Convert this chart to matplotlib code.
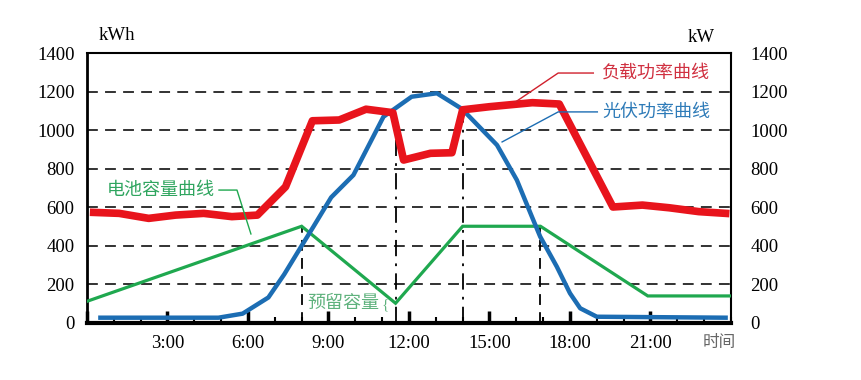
import matplotlib
matplotlib.use("Agg")
import matplotlib.pyplot as plt
from matplotlib.ticker import MultipleLocator

plt.rcParams['font.family'] = ['Liberation Serif', 'Noto Sans CJK SC', 'DejaVu Sans']

# data (hours, kW / kWh)
load_h = [0.25, 1.2, 2.3, 3.3, 4.35, 5.4, 6.35, 7.4, 8.4, 9.4, 10.4, 11.4, 11.8, 12.8,
          13.6, 14.0, 15.0, 16.6, 17.6, 19.6, 20.7, 21.7, 22.8, 23.8]
load_v = [572, 567, 541, 558, 567, 550, 558, 705, 1048, 1052, 1108, 1090, 844, 879,
          882, 1105, 1121, 1142, 1135, 600, 610, 596, 576, 567]

pv_h = [0.5, 4.9, 5.8, 6.76, 7.35, 7.94, 8.44, 9.1, 9.93, 11.05, 12.1, 13.04, 13.97,
        15.28, 16.02, 16.58, 16.89, 17.51, 18.0, 18.38, 19.0, 23.8]
pv_v = [25, 25, 46, 130, 250, 385, 498, 650, 766, 1069, 1173, 1191, 1110,
        922, 740, 550, 446, 290, 152, 74, 30, 25]

bat_h = [0, 8, 11.5, 14, 16.9, 20.9, 24]
bat_v = [110, 500, 100, 500, 500, 138, 138]

x_labels = {3: "3:00", 6: "6:00", 9: "9:00", 12: "12:00", 15: "15:00", 18: "18:00", 21: "21:00"}
y_ticks = [0, 200, 400, 600, 800, 1000, 1200, 1400]

red = '#e8141c'
blue = '#1c6db3'
green = '#1fa84f'

fig = plt.figure(figsize=(8.62, 3.80), dpi=100)
ax = fig.add_axes([0.1009, 0.1513, 0.7471, 0.7092])
ax.set_xlim(0, 24)
ax.set_ylim(0, 1400)

# horizontal dashed grid
for v in y_ticks[1:-1]:
    ax.axhline(v, color='#222222', lw=1.3, ls=(0, (6, 4)), zorder=1)

# vertical marker lines
ax.plot([8, 8], [0, 500], color='black', lw=1.3, ls=(0, (6, 4)), zorder=1)
ax.plot([16.9, 16.9], [0, 500], color='black', lw=1.3, ls=(0, (6, 4)), zorder=1)
ax.plot([11.5, 11.5], [0, 1000], color='black', lw=1.3, ls=(0, (9, 4, 1.5, 4)), zorder=1)
ax.plot([14, 14], [0, 1100], color='black', lw=1.3, ls=(0, (9, 4, 1.5, 4)), zorder=1)

# curves
ax.plot(bat_h, bat_v, color=green, lw=2.3, zorder=3, solid_joinstyle='miter')
ax.plot(pv_h, pv_v, color=blue, lw=3.2, zorder=4)
ax.plot(load_h, load_v, color=red, lw=5.5, zorder=5)

# annotations
ax.plot([15.96, 17.56, 18.87], [1145, 1296, 1296], color='#d0202c', lw=1.0, zorder=6)
ax.text(19.2, 1296, "负载功率曲线", color='#d03040', fontsize=13, va='center', ha='left',
        family=['Noto Sans CJK SC'])
ax.plot([15.47, 17.56, 19.02], [938, 1094, 1094], color='#1c6db3', lw=1.0, zorder=6)
ax.text(19.2, 1094, "光伏功率曲线", color='#2e7bb8', fontsize=13, va='center', ha='left',
        family=['Noto Sans CJK SC'])
ax.plot([4.92, 5.59, 6.11], [688, 688, 460], color=green, lw=1.0, zorder=6)
ax.text(0.75, 688, "电池容量曲线", color='#2fa55f', fontsize=13, va='center', ha='left',
        family=['Noto Sans CJK SC'])
ax.text(8.2, 101, "预留容量", color='#5fb27d', fontsize=13, va='center', ha='left',
        family=['Noto Sans CJK SC'])
ax.text(11.12, 90, "{", color='#5fb27d', fontsize=11, va='center', ha='center')

# axes styling
for s in ['top', 'left', 'right']:
    ax.spines[s].set_linewidth(1.5)
ax.spines['bottom'].set_linewidth(3.0)
ax.spines['left'].set_linewidth(2.0)

ax.xaxis.set_major_locator(MultipleLocator(3))
ax.xaxis.set_minor_locator(MultipleLocator(1))
ax.set_xticks(list(range(0, 24, 3)))
ax.set_xticklabels([x_labels.get(h, "") for h in range(0, 24, 3)])
ax.tick_params(axis='x', which='major', direction='in', length=9, width=2.5, pad=9,
               labelsize=13.5)
ax.tick_params(axis='x', which='minor', direction='in', length=4, width=1.5)
ax.text(23.55, -0.073, "时间", transform=ax.get_xaxis_transform(), ha='center', va='center',
        fontsize=12, color='#666666', family=['Noto Sans CJK SC'])

ax.set_yticks(y_ticks)
ax.tick_params(axis='y', which='both', length=0, pad=9, labelsize=13.5)

ax2 = ax.twinx()
ax2.set_ylim(0, 1400)
ax2.set_yticks(y_ticks)
ax2.tick_params(axis='y', length=0, pad=14, labelsize=13.5)
for s in ax2.spines.values():
    s.set_visible(False)

fig.text(117 / 862, 1 - 35 / 380, "kWh", ha='center', va='center', fontsize=13.5)
fig.text(701 / 862, 1 - 37 / 380, "kW", ha='center', va='center', fontsize=13.5)

fig.savefig("out.png", dpi=100)
